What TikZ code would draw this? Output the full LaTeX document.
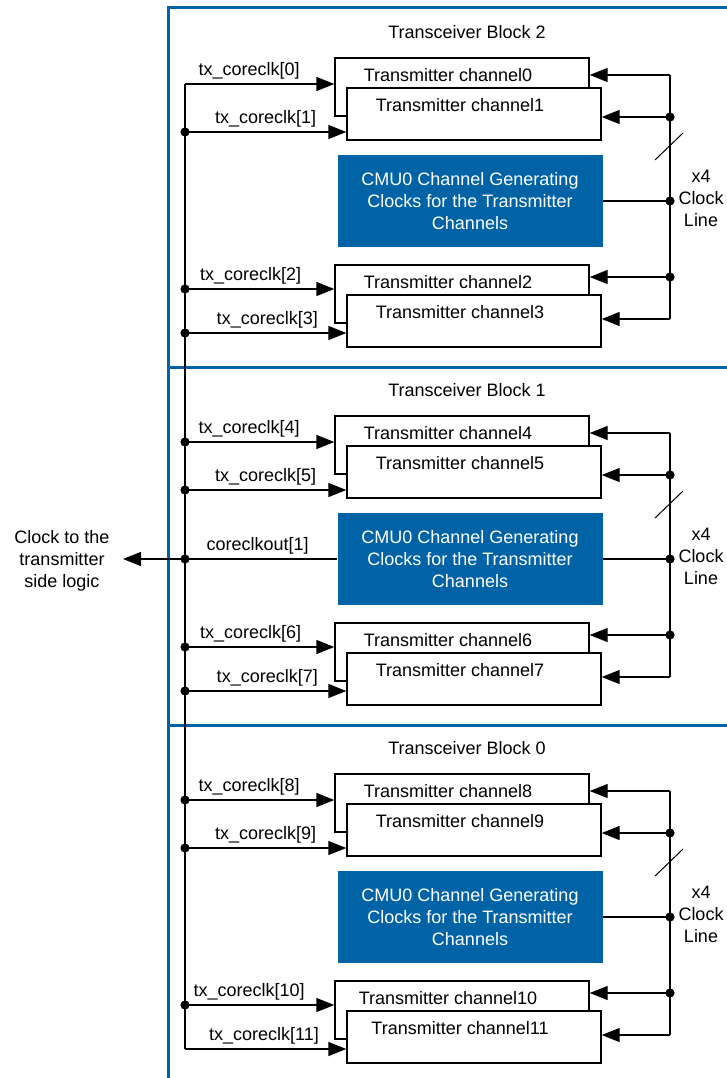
\documentclass[tikz,border=0pt]{standalone}
\usepackage{fontspec}
\setmainfont{Liberation Sans}
\usetikzlibrary{arrows.meta,positioning}
\definecolor{cmublue}{RGB}{0,99,166}
\newcommand{\txtsize}{\fontsize{18}{22}\selectfont}
\tikzset{>={Triangle[length=18pt,width=14pt]}}
\tikzset{frame/.style={draw=cmublue,line width=3pt}}
\tikzset{chtext/.style={anchor=north,inner sep=0pt,yshift=-10pt,xshift=-14pt}}
\tikzset{chback/.style={rectangle,fill=white,draw=black,minimum width=254pt,minimum height=58pt,inner sep=0pt,label={[chtext]north:#1}}}
\tikzset{chfront/.style={rectangle,fill=white,draw=black,minimum width=254pt,minimum height=52pt,inner sep=0pt,label={[chtext]north:#1}}}
\tikzset{cmu/.style={rectangle,fill=cmublue,text=white,align=center,minimum width=265pt,minimum height=92pt,inner sep=0pt}}
\tikzset{info/.style={align=center,inner sep=0pt}}
\tikzset{lbl/.style={above,inner sep=4pt}}

\begin{document}
\begin{tikzpicture}[x=1pt,y=-1pt,line width=1.4pt,every node/.style={font=\txtsize}]
    \useasboundingbox (0,0) rectangle (727,1078);

    % frame of the blocks
    \draw[frame] (168,1078) -- (168,8) -- (727,8);
    \draw[frame] (168,367) -- (727,367);
    \draw[frame] (168,725) -- (727,725);

    % Transceiver Block 2
    \node[info]                          (tb2)  at (467,32)  {Transceiver Block 2};
    \node[chback=Transmitter channel0]   (ch0)  at (462,87)  {};
    \node[chfront=Transmitter channel1]  (ch1)  at (474,114) {};
    \node[cmu]                           (cmu2) at (470,201) {CMU0 Channel Generating\\Clocks for the Transmitter\\Channels};
    \node[chback=Transmitter channel2]   (ch2)  at (462,294) {};
    \node[chfront=Transmitter channel3]  (ch3)  at (474,321) {};
    \node[info]                          (cl2)  at (701,198) {x4\\Clock\\Line};

    % Transceiver Block 1
    \node[info]                          (tb1)  at (467,390) {Transceiver Block 1};
    \node[chback=Transmitter channel4]   (ch4)  at (462,445) {};
    \node[chfront=Transmitter channel5]  (ch5)  at (474,472) {};
    \node[cmu]                           (cmu1) at (470,559) {CMU0 Channel Generating\\Clocks for the Transmitter\\Channels};
    \node[chback=Transmitter channel6]   (ch6)  at (462,652) {};
    \node[chfront=Transmitter channel7]  (ch7)  at (474,679) {};
    \node[info]                          (cl1)  at (701,556) {x4\\Clock\\Line};

    % Transceiver Block 0
    \node[info]                          (tb0)  at (467,748) {Transceiver Block 0};
    \node[chback=Transmitter channel8]   (ch8)  at (462,803) {};
    \node[chfront=Transmitter channel9]  (ch9)  at (474,830) {};
    \node[cmu]                           (cmu0) at (470,917) {CMU0 Channel Generating\\Clocks for the Transmitter\\Channels};
    \node[chback=Transmitter channel10]  (ch10) at (462,1010) {};
    \node[chfront=Transmitter channel11] (ch11) at (474,1037) {};
    \node[info]                          (cl0)  at (701,914) {x4\\Clock\\Line};

    \node[info] (logic) at (62,561) {Clock to the\\transmitter\\side logic};

    % left bus
    \coordinate (p0)  at (185,84);   \coordinate (p1)  at (185,132);
    \coordinate (p2)  at (185,289);  \coordinate (p3)  at (185,333);
    \coordinate (p4)  at (185,442);  \coordinate (p5)  at (185,490);
    \coordinate (p6)  at (185,647);  \coordinate (p7)  at (185,691);
    \coordinate (p8)  at (185,800);  \coordinate (p9)  at (185,848);
    \coordinate (p10) at (185,1005); \coordinate (p11) at (185,1049);
    \coordinate (o)   at (185,559);  \coordinate (out) at (123,559);

    % clock lines
    \coordinate (q0)  at (670,75);   \coordinate (q1)  at (670,117);
    \coordinate (q2)  at (670,277);  \coordinate (q3)  at (670,319);
    \coordinate (q4)  at (670,433);  \coordinate (q5)  at (670,475);
    \coordinate (q6)  at (670,635);  \coordinate (q7)  at (670,677);
    \coordinate (q8)  at (670,791);  \coordinate (q9)  at (670,833);
    \coordinate (q10) at (670,993);  \coordinate (q11) at (670,1035);
    \coordinate (j2)  at (670,201);  \coordinate (j1)  at (670,559);
    \coordinate (j0)  at (670,917);

    \draw (p0) -- (p11);
    \draw (q0) -- (q3);
    \draw (q4) -- (q7);
    \draw (q8) -- (q11);

    \draw[->] (p0)  -- (p0 -| ch0.west)   node[lbl,pos=0.43] {tx\_coreclk[0]};
    \draw[->] (p1)  -- (p1 -| ch1.west)   node[lbl,midway]   {tx\_coreclk[1]};
    \draw[->] (p2)  -- (p2 -| ch2.west)   node[lbl,pos=0.44] {tx\_coreclk[2]};
    \draw[->] (p3)  -- (p3 -| ch3.west)   node[lbl,pos=0.51] {tx\_coreclk[3]};
    \draw[->] (p4)  -- (p4 -| ch4.west)   node[lbl,pos=0.43] {tx\_coreclk[4]};
    \draw[->] (p5)  -- (p5 -| ch5.west)   node[lbl,midway]   {tx\_coreclk[5]};
    \draw[->] (p6)  -- (p6 -| ch6.west)   node[lbl,pos=0.44] {tx\_coreclk[6]};
    \draw[->] (p7)  -- (p7 -| ch7.west)   node[lbl,pos=0.51] {tx\_coreclk[7]};
    \draw[->] (p8)  -- (p8 -| ch8.west)   node[lbl,pos=0.43] {tx\_coreclk[8]};
    \draw[->] (p9)  -- (p9 -| ch9.west)   node[lbl,midway]   {tx\_coreclk[9]};
    \draw[->] (p10) -- (p10 -| ch10.west) node[lbl,pos=0.43] {tx\_coreclk[10]};
    \draw[->] (p11) -- (p11 -| ch11.west) node[lbl,pos=0.49] {tx\_coreclk[11]};

    \draw[->] (cmu1) -- (out) node[lbl,pos=0.37] {coreclkout[1]};

    \draw[->] (q0)  -- (q0 -| ch0.east);
    \draw[->] (q1)  -- (q1 -| ch1.east);
    \draw[->] (q2)  -- (q2 -| ch2.east);
    \draw[->] (q3)  -- (q3 -| ch3.east);
    \draw[->] (q4)  -- (q4 -| ch4.east);
    \draw[->] (q5)  -- (q5 -| ch5.east);
    \draw[->] (q6)  -- (q6 -| ch6.east);
    \draw[->] (q7)  -- (q7 -| ch7.east);
    \draw[->] (q8)  -- (q8 -| ch8.east);
    \draw[->] (q9)  -- (q9 -| ch9.east);
    \draw[->] (q10) -- (q10 -| ch10.east);
    \draw[->] (q11) -- (q11 -| ch11.east);

    \draw (cmu2) -- (j2);
    \draw (cmu1) -- (j1);
    \draw (cmu0) -- (j0);

    % x4 marks
    \draw[line width=1pt] (655,160) -- (683,133);
    \draw[line width=1pt] (655,518) -- (683,491);
    \draw[line width=1pt] (655,876) -- (683,849);

    \foreach \d in {p1,p2,p3,p4,p5,o,p6,p7,p8,p9,p10,q1,j2,q2,q5,j1,q6,q9,j0,q10}
      \fill (\d) circle[radius=4.6pt];
  \end{tikzpicture}
\end{document}
